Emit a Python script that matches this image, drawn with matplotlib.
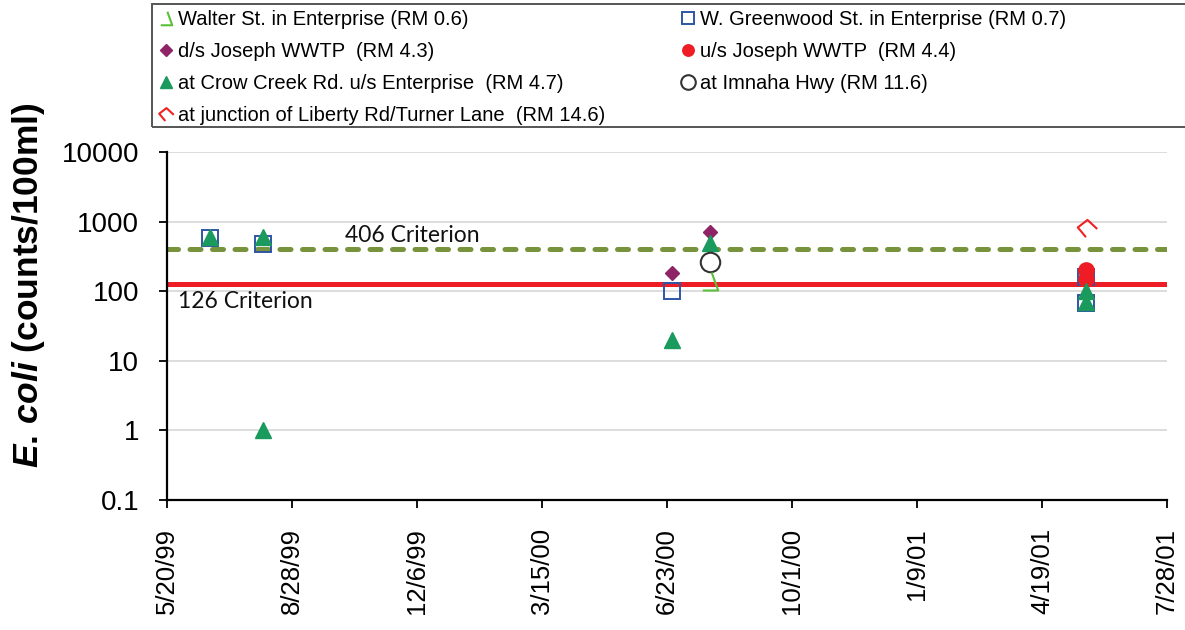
import datetime as dt

import matplotlib
matplotlib.use("Agg")
import matplotlib.pyplot as plt
import matplotlib.dates as mdates
from matplotlib.path import Path
from matplotlib.patches import Rectangle
from matplotlib.ticker import FixedLocator, FuncFormatter, NullLocator

plt.rcParams.update({
    "font.family": "Liberation Sans",
    "mathtext.fontset": "custom",
    "mathtext.it": "Liberation Sans:style=italic:weight=bold",
    "mathtext.rm": "Liberation Sans:weight=bold",
})

D = dt.date
# ---- data (E. coli, counts/100ml)
walter_dates = [D(2000, 7, 27)]
walter_vals = [140]
greenwood_dates = [D(1999, 6, 23), D(1999, 8, 5), D(2000, 6, 27),
                   D(2001, 5, 24), D(2001, 5, 24)]
greenwood_vals = [590, 480, 100, 160, 67]
ds_joseph_dates = [D(2000, 6, 27), D(2000, 7, 27)]
ds_joseph_vals = [180, 700]
us_joseph_dates = [D(2001, 5, 24), D(2001, 5, 24)]
us_joseph_vals = [200, 150]
crow_dates = [D(1999, 6, 23), D(1999, 8, 5), D(1999, 8, 5), D(2000, 6, 27),
              D(2000, 7, 27), D(2001, 5, 24), D(2001, 5, 24)]
crow_vals = [600, 600, 1, 20, 500, 100, 70]
imnaha_dates = [D(2000, 7, 27)]
imnaha_vals = [260]
liberty_dates = [D(2001, 5, 25)]
liberty_vals = [800]

crit_high, crit_low = 406, 126
x_start, x_end = D(1999, 5, 20), D(2001, 7, 28)
y_ticks = [0.1, 1, 10, 100, 1000, 10000]
y_ticklabels = ["0.1", "1", "10", "100", "1000", "10000"]

labels = {
    "walter": "Walter St. in Enterprise (RM 0.6)",
    "greenwood": "W. Greenwood St. in Enterprise (RM 0.7)",
    "ds": "d/s Joseph WWTP  (RM 4.3)",
    "us": "u/s Joseph WWTP  (RM 4.4)",
    "crow": "at Crow Creek Rd. u/s Enterprise  (RM 4.7)",
    "imnaha": "at Imnaha Hwy (RM 11.6)",
    "liberty": "at junction of Liberty Rd/Turner Lane  (RM 14.6)",
}

# odd Excel-style open markers
walter_marker = Path([(1.2, 9.15), (7.8, -9.15), (-7.8, -9.15)],
                     [Path.MOVETO, Path.LINETO, Path.LINETO])
liberty_marker = Path([(10, -0.5), (0, 8.8), (-10, 1.1), (-1.6, -8.9)],
                      [Path.MOVETO, Path.LINETO, Path.LINETO, Path.LINETO])

fig = plt.figure(figsize=(11.85, 6.3), dpi=100)
ax = fig.add_axes([167 / 1185, 130 / 630, 1000 / 1185, 348 / 630])

ax.axhline(crit_high, color="#77933C", lw=3.6, ls=(0, (2.2, 2.3)),
           dash_capstyle="round", zorder=2)
ax.axhline(crit_low, color="#EE1C25", lw=3.6, zorder=2)

h_green, = ax.plot(greenwood_dates, greenwood_vals, ls="none", marker="s",
                   ms=12, mfc="none", mec="#2F55A4", mew=1.4, zorder=3,
                   label=labels["greenwood"])
h_ds, = ax.plot(ds_joseph_dates, ds_joseph_vals, ls="none", marker="D",
                ms=7.5, color="#8E2465", zorder=4, label=labels["ds"])
h_us, = ax.plot(us_joseph_dates, us_joseph_vals, ls="none", marker="o",
                ms=11, color="#EE1C25", zorder=5, label=labels["us"])
h_crow, = ax.plot(crow_dates, crow_vals, ls="none", marker="^",
                  ms=12, color="#1A9A5C", zorder=6, label=labels["crow"])
h_imn, = ax.plot(imnaha_dates, imnaha_vals, ls="none", marker="o",
                 ms=14, mfc="none", mec="#333333", mew=1.5, zorder=7,
                 label=labels["imnaha"])
h_walt, = ax.plot(walter_dates, walter_vals, ls="none", marker=walter_marker,
                  ms=13, mfc="none", mec="#5CBF3A", mew=1.5, zorder=8,
                  label=labels["walter"])
h_lib, = ax.plot(liberty_dates, liberty_vals, ls="none",
                 marker=liberty_marker, ms=14, mfc="none", mec="#EE2222",
                 mew=1.5, zorder=8, label=labels["liberty"])

ax.text(0.178, 0.759, "406 Criterion", transform=ax.transAxes,
        family="Lato", fontsize=16.5, va="center", ha="left", color="#111111")
ax.text(0.011, 0.569, "126 Criterion", transform=ax.transAxes,
        family="Lato", fontsize=16.5, va="center", ha="left", color="#111111")

ax.set_yscale("log")
ax.set_ylim(0.1, 10000)
ax.yaxis.set_major_locator(FixedLocator(y_ticks))
ax.yaxis.set_minor_locator(NullLocator())
ax.set_yticklabels(y_ticklabels)
ax.grid(axis="y", color="#D3D3D3", lw=1.1, zorder=0)
ax.set_axisbelow(True)

x_ticks = [x_start + dt.timedelta(days=100 * i) for i in range(9)]
ax.set_xlim(x_start, x_end)
ax.xaxis.set_major_locator(FixedLocator(mdates.date2num(x_ticks)))
ax.xaxis.set_major_formatter(FuncFormatter(
    lambda v, _: (lambda d: f"{d.month}/{d.day}/{d.year % 100:02d}")(
        mdates.num2date(v))))

for s in ("top", "right"):
    ax.spines[s].set_visible(False)
for s in ("left", "bottom"):
    ax.spines[s].set_linewidth(1.6)
ax.tick_params(axis="y", labelsize=20, length=6, width=1.3, pad=14)
ax.tick_params(axis="x", labelsize=18.5, length=6, width=1.3, pad=14,
               labelrotation=90)

fig.text(29 / 1185, 1 - 285 / 630, r"$\mathit{E.\,coli}$ (counts/100ml)",
         rotation=90, ha="center", va="center", fontsize=25.5,
         fontweight="bold")

handles = [h_walt, h_ds, h_crow, h_lib, h_green, h_us, h_imn]
fig.legend(handles, [h.get_label() for h in handles], ncol=2,
           loc="upper left", bbox_to_anchor=(158 / 1185, 1 - 10 / 630),
           bbox_transform=fig.transFigure, frameon=False, borderpad=0,
           borderaxespad=0, handlelength=0.8, handletextpad=0.2,
           columnspacing=3.7, labelspacing=0.64, markerscale=0.75,
           fontsize=14.5)
fig.patches.append(Rectangle((152 / 1185, 1 - 127 / 630), 1.0,
                             123 / 630, transform=fig.transFigure,
                             fill=False, edgecolor="#555555", lw=1.4))

fig.savefig("out.png", dpi=100)
